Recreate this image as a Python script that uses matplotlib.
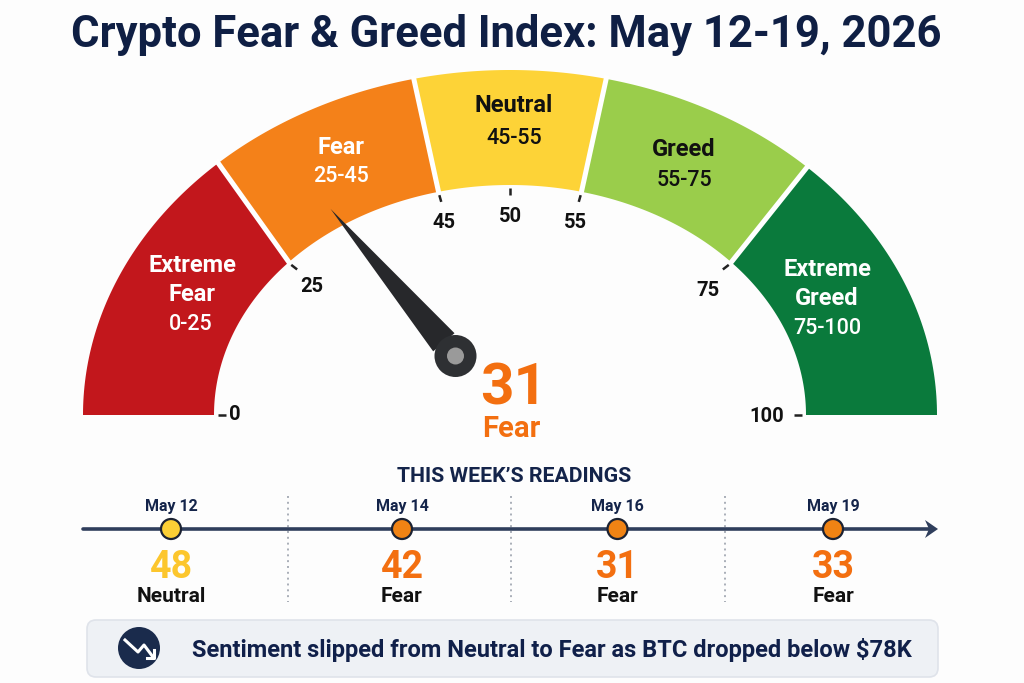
import matplotlib
matplotlib.use('Agg')
import matplotlib.pyplot as plt
from matplotlib.patches import Circle, FancyBboxPatch, Polygon
import numpy as np

plt.rcParams['font.family'] = ['Roboto', 'DejaVu Sans']

title = 'Crypto Fear & Greed Index: May 12-19, 2026'

# zones of the gauge
zone_edges = [0, 25, 45, 55, 75, 100]
zone_names = ['Extreme\nFear', 'Fear', 'Neutral', 'Greed', 'Extreme\nGreed']
zone_ranges = ['0-25', '25-45', '45-55', '55-75', '75-100']
zone_colors = ['#C2171C', '#F48119', '#FDD337', '#9ACD4B', '#0A7A3C']
zone_text = ['white', 'white', '#111111', '#111111', 'white']

scale_ticks = [0, 25, 45, 50, 55, 75, 100]

current_value = 31
current_label = 'Fear'

# this week's readings
dates = ['May 12', 'May 14', 'May 16', 'May 19']
readings = [48, 42, 31, 33]
reading_labels = ['Neutral', 'Fear', 'Fear', 'Fear']
reading_colors = ['#FCC62D', '#F36F10', '#F36F10', '#F36F10']
node_colors = ['#FBCF35', '#F08314', '#F08314', '#F08314']

note = 'Sentiment slipped from Neutral to Fear as BTC dropped below $78K'

# the gauge is squashed and the neutral zone is drawn wider than its share,
# and the zone borders are not quite radial, so outer and inner edge differ
scale_values = [0, 25, 31, 45, 50, 55, 75, 100]
outer_angles = [180, 133, 121, 103, 90, 77, 46, 0]
inner_angles = [180, 138.5, 125, 104, 90, 76, 41.5, 0]

CX, CY = 510, 415
RX, RY = 427, 345
IRX, IRY = 296, 230
NAVY = '#14244A'


def gauge_xy(value, f):
    # f = 0 on the outer edge, f = 1 on the inner edge
    a = np.interp(value, scale_values, outer_angles)
    b = np.interp(value, scale_values, inner_angles)
    t = np.radians(a + (b - a) * np.clip(f, 0, 1))
    return CX + (RX + f * (IRX - RX)) * np.cos(t), CY - (RY + f * (IRY - RY)) * np.sin(t)


fig = plt.figure(figsize=(10.24, 6.83), dpi=100, facecolor='#FDFDFD')
ax = fig.add_axes([0, 0, 1, 1])
ax.set_xlim(0, 1024)
ax.set_ylim(683, 0)
ax.axis('off')

ax.text(506.5, 35, title, ha='center', va='center', fontsize=31.4, fontweight='bold', color='#0F1F44')

# zones
for i in range(len(zone_names)):
    vals = np.linspace(zone_edges[i], zone_edges[i + 1], 60)
    ox, oy = gauge_xy(vals, 0.0)
    ix, iy = gauge_xy(vals[::-1], 1.0)
    pts = np.column_stack([np.r_[ox, ix], np.r_[oy, iy]])
    ax.add_patch(Polygon(pts, closed=True, facecolor=zone_colors[i], edgecolor='none', zorder=2))

for v in zone_edges[1:-1]:
    x, y = gauge_xy(v, np.array([-0.03, 1.02]))
    ax.plot(x, y, color='white', lw=3.6, zorder=3, solid_capstyle='butt')

# zone labels
name_pos = [(192, 280), (341, 147), (514, 106), (684, 149), (827, 284)]
range_pos = [(191, 325), (341, 177), (514, 138), (684, 180), (827, 328)]
for i in range(len(zone_names)):
    ax.text(name_pos[i][0], name_pos[i][1], zone_names[i], ha='center', va='center', fontsize=17,
            fontweight='bold', color=zone_text[i], linespacing=1.38, zorder=4)
    ax.text(range_pos[i][0], range_pos[i][1], zone_ranges[i], ha='center', va='center', fontsize=15.5,
            fontweight='medium', color=zone_text[i], zorder=4)

# scale ticks and numbers
tick_label_pos = [(235, 415), (312, 287), (444, 223), (511, 216), (575, 223), (708, 290), (767, 417)]
for v, (lx, ly) in zip(scale_ticks, tick_label_pos):
    x, y = gauge_xy(v, np.array([1.03, 1.09]))
    ax.plot(x, y, color='#222222', lw=1.8, zorder=3, solid_capstyle='butt')
    ax.text(lx, ly, str(v), ha='center', va='center', fontsize=14.5, fontweight='bold', color='#111111')

# needle
HUB = np.array([455.5, 356])
tip = np.array(gauge_xy(current_value, 0.83))
d = (tip - HUB) / np.hypot(*(tip - HUB))
n = np.array([-d[1], d[0]])
base = HUB + 18 * d
ax.add_patch(Polygon([tip, base + 14 * n, base - 14 * n], closed=True, facecolor='#27282B', edgecolor='none', zorder=5))
ax.add_patch(Circle(HUB, 21, facecolor='#2E3033', edgecolor='none', zorder=6))
ax.add_patch(Circle(HUB, 8.5, facecolor='#9A9A9A', edgecolor='none', zorder=7))

ax.text(514, 389, str(current_value), ha='center', va='center', fontsize=42, fontweight='bold', color='#F36F10')
ax.text(511, 429, current_label, ha='center', va='center', fontsize=21, fontweight='bold', color='#F36F10')

# timeline
node_x = [171, 402, 617.5, 833]
divider_x = [288, 511, 725]
AXIS_Y = 529

ax.text(514.5, 477, "THIS WEEK\u2019S READINGS", ha='center', va='center', fontsize=15.3, fontweight='bold', color=NAVY)
for x in divider_x:
    ax.plot([x, x], [496, 602], color='#A9AEB8', lw=1.4, ls=(0, (1, 2)), zorder=1)
ax.plot([83, 930], [AXIS_Y, AXIS_Y], color='#2F3E5C', lw=2.6, zorder=2, solid_capstyle='round')
ax.add_patch(Polygon([(938, 529), (925, 520), (929, 529), (925, 538)], closed=True, facecolor='#2F3E5C', edgecolor='none', zorder=2))

for i in range(len(dates)):
    x = node_x[i]
    ax.add_patch(Circle((x, AXIS_Y), 10, facecolor=node_colors[i], edgecolor='#1B2233', lw=1.6, zorder=3))
    ax.text(x, 506, dates[i], ha='center', va='center', fontsize=11.5, fontweight='bold', color=NAVY)
    ax.text(x, 568, str(readings[i]), ha='center', va='center', fontsize=27, fontweight='bold', color=reading_colors[i])
    ax.text(x, 596, reading_labels[i], ha='center', va='center', fontsize=15, fontweight='bold', color='#111111')

# note box
ax.add_patch(FancyBboxPatch((87, 620), 851, 57, boxstyle='round,pad=0,rounding_size=9',
                            facecolor='#EEF1F5', edgecolor='#DFE3EA', lw=1.2, zorder=1))
ax.add_patch(Circle((139, 648), 21, facecolor='#1A2B4C', edgecolor='none', zorder=2))
ax.plot([125, 138, 144, 153], [640, 652, 645, 657], color='white', lw=2.2, zorder=3)
ax.plot([147, 154, 154], [658, 658, 650], color='white', lw=2.2, zorder=3)
ax.text(552, 650, note, ha='center', va='center', fontsize=17, fontweight='bold', color='#10204A')

fig.savefig('out.png', dpi=100, facecolor=fig.get_facecolor())
